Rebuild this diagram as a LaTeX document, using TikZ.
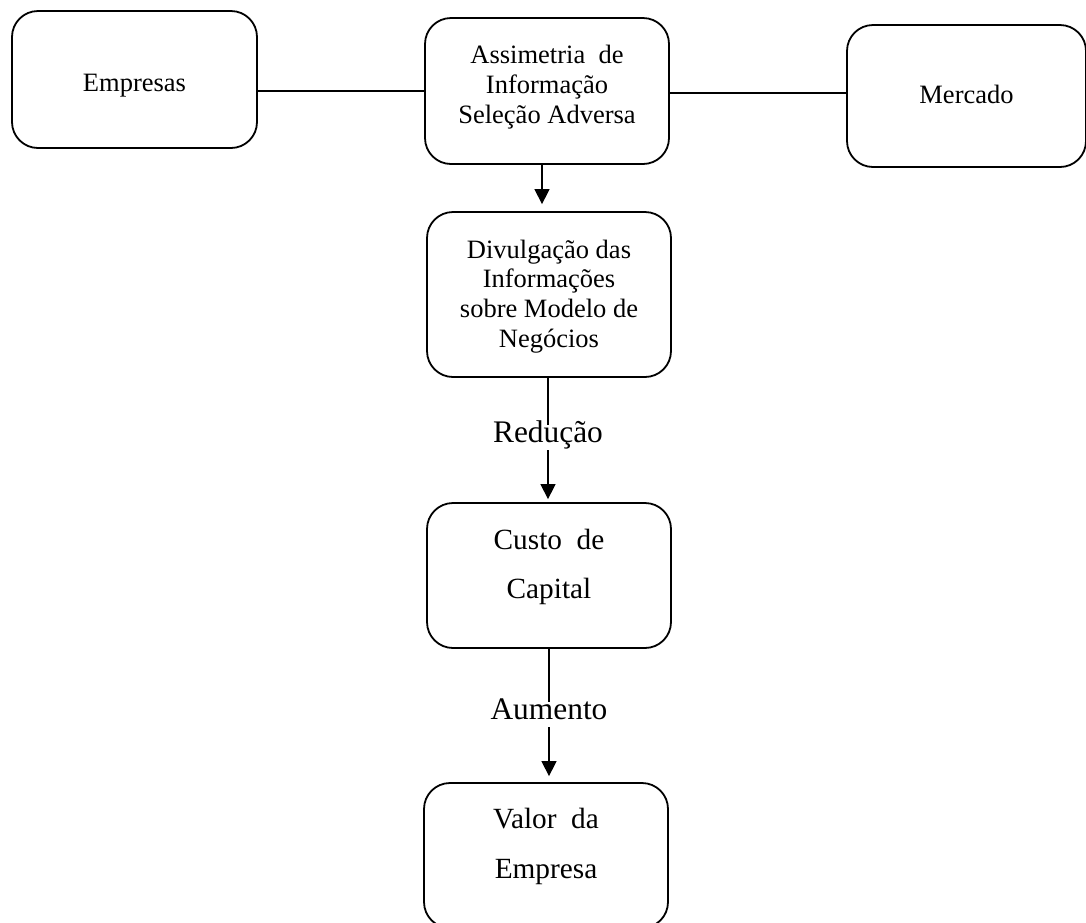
\documentclass[tikz,border=0pt]{standalone}
\usepackage{fontspec}
\setmainfont{Liberation Serif}
\usetikzlibrary{arrows.meta}
\newcommand{\bxt}[5]{\raisebox{0pt}[#1pt][#2pt]{\fontsize{#3pt}{#4pt}\selectfont\begin{tabular}[t]{@{}c@{}}#5\end{tabular}}}
\tikzset{
  bx/.style={draw, line width=1.8pt, rounded corners=26pt, inner sep=0pt},
  ln/.style={line width=1.3pt},
  arr/.style={line width=1.3pt, -{Triangle[length=15pt,width=15pt]}},
  lab/.style={fill=white, inner sep=0pt, text height=17pt, text depth=8pt, font=\fontsize{31.4pt}{36pt}\selectfont}
}
\begin{document}
\begin{tikzpicture}[x=1pt,y=-1pt]
\useasboundingbox (0,0) rectangle (1086,922);
\node[bx, minimum width=245pt, minimum height=137pt] (emp) at (134.5,79.5) {\bxt{80}{57}{26.5}{30}{Empresas}};
\node[bx, minimum width=244pt, minimum height=146pt] (asm) at (547,91) {\bxt{45}{101}{26.5}{30}{Assimetria\ \ de\\Informação\\Seleção Adversa}};
\node[bx, minimum width=239pt, minimum height=142pt] (merc) at (966.5,96) {\bxt{78}{64}{26.5}{30}{Mercado}};
\node[bx, minimum width=244pt, minimum height=165pt] (div) at (549,294.5) {\bxt{46}{119}{26.5}{29.7}{Divulgação das\\Informações\\sobre Modelo de\\Negócios}};
\node[bx, minimum width=244pt, minimum height=145pt] (cus) at (549,575.5) {\bxt{46}{99}{29.3}{49}{Custo\ \ de\\Capital}};
\node[bx, minimum width=244pt, minimum height=145pt] (val) at (546,855.5) {\bxt{45}{100}{29.3}{50}{Valor\ \ da\\Empresa}};
\draw[ln] (asm.west) -- (asm.west -| emp.east);
\draw[ln] ([yshift=-2pt]asm.east) -- ([yshift=-2pt]asm.east -| merc.west);
\draw[arr, shorten >=7pt] ([xshift=-5pt]asm.south) -- ([xshift=-5pt]asm.south |- div.north);
\draw[arr, shorten >=3pt] ([xshift=-1pt]div.south) -- node[lab, pos=0.48] (red) {Redução} ([xshift=-1pt]div.south |- cus.north);
\draw[arr, shorten >=6pt] (cus.south) -- node[lab, pos=0.493] (aum) {Aumento} (cus.south |- val.north);
\end{tikzpicture}
\end{document}
